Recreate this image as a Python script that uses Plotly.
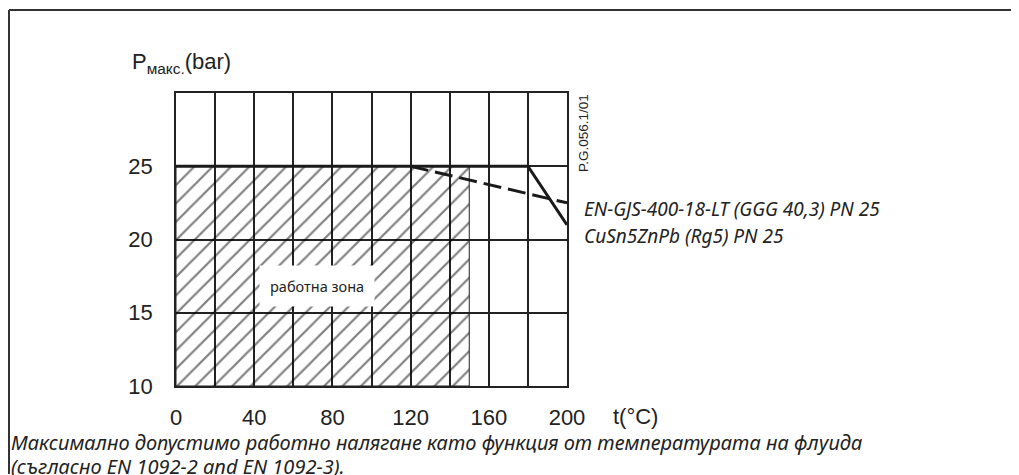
import plotly.graph_objects as go

# Data
temps_solid = [0, 180, 200]          # EN-GJS-400-18-LT
press_solid = [25, 25, 21]
temps_dash = [120, 200]              # CuSn5ZnPb
press_dash = [25, 22.5]
zone_x = [0, 150, 150, 0, 0]         # работна зона
zone_y = [10, 10, 25, 25, 10]
x_tickvals = [0, 40, 80, 120, 160, 200]
x_ticktext = ["0", "40", "80", "120", "160", "200"]
y_tickvals = [10, 15, 20, 25]
y_ticktext = ["10", "15", "20", "25"]

TXT = "#222222"
ITAL = "Noto Sans, Open Sans, sans-serif"

# page has an 8px body margin; figure is sized to fill the rest of the window
OFF = 8
W, H = 1019 - OFF, 475 - OFF
pl, pr, pt, pb = 168, 452, 85, 89
pw, ph = W - pl - pr, H - pt - pb


def px(sx):
    return (sx - OFF - pl) / pw


def py(sy):
    return (H - pb - (sy - OFF)) / ph


fig = go.Figure()

fig.add_trace(go.Scatter(
    x=zone_x, y=zone_y, mode="lines", fill="toself",
    line=dict(color="#222222", width=1),
    fillcolor="rgba(255,255,255,0)",
    fillpattern=dict(shape="/", fgcolor="black", bgcolor="rgba(255,255,255,0)",
                     size=13, solidity=0.17),
    hoverinfo="skip", showlegend=False))

fig.add_trace(go.Scatter(x=temps_dash, y=press_dash, mode="lines",
                         line=dict(color="#1a1a1a", width=3, dash="18px,7px"),
                         showlegend=False))
fig.add_trace(go.Scatter(x=temps_solid, y=press_solid, mode="lines",
                         line=dict(color="#1a1a1a", width=3),
                         showlegend=False))

fig.update_layout(
    width=W, height=H,
    margin=dict(l=pl, r=pr, t=pt, b=pb, autoexpand=False),
    paper_bgcolor="white", plot_bgcolor="white",
    font=dict(family="Liberation Sans, Arial, sans-serif", color=TXT),
    xaxis=dict(range=[0, 200], tickvals=x_tickvals, ticktext=x_ticktext,
               showgrid=True, gridcolor="#222222", gridwidth=1.5,
               minor=dict(dtick=20, tick0=0, showgrid=True, gridcolor="#222222",
                          gridwidth=1.5, ticks=""),
               showline=True, linecolor="#222222", linewidth=1.5, mirror=True,
               zeroline=False, ticks="", tickfont=dict(size=22, color=TXT),
               ticklabelstandoff=11),
    yaxis=dict(range=[10, 30], tickvals=y_tickvals, ticktext=y_ticktext,
               showgrid=True, gridcolor="#222222", gridwidth=1.5,
               showline=True, linecolor="#222222", linewidth=1.5, mirror=True,
               zeroline=False, ticks="", tickfont=dict(size=22, color=TXT),
               ticklabelstandoff=17),
    shapes=[
        dict(type="line", xref="paper", yref="paper",
             x0=px(9), x1=px(1018), y0=py(10), y1=py(10),
             line=dict(color="#333333", width=2)),
        dict(type="line", xref="paper", yref="paper",
             x0=px(9), x1=px(9), y0=py(10), y1=py(474),
             line=dict(color="#333333", width=2)),
    ],
)

ann = [
    dict(x=px(130), y=py(63), xref="paper", yref="paper", xanchor="left", yanchor="middle",
         text="P<sub>макс.</sub>(bar)", showarrow=False,
         font=dict(size=22, color=TXT)),
    dict(x=px(611), y=py(416), xref="paper", yref="paper", xanchor="left", yanchor="middle",
         text="t(°C)", showarrow=False, font=dict(size=22, color=TXT)),
    dict(x=px(583), y=py(133), xref="paper", yref="paper", xanchor="center", yanchor="middle",
         text="P.G.056.1/01", textangle=-90, showarrow=False, font=dict(size=13.5, color=TXT)),
    dict(x=px(582), y=py(209), xref="paper", yref="paper", xanchor="left", yanchor="middle",
         text="<i>EN-GJS-400-18-LT (GGG 40,3) PN 25</i>", showarrow=False,
         font=dict(size=19, color=TXT, family=ITAL)),
    dict(x=px(582), y=py(236), xref="paper", yref="paper", xanchor="left", yanchor="middle",
         text="<i>CuSn5ZnPb (Rg5) PN 25</i>", showarrow=False,
         font=dict(size=19, color=TXT, family=ITAL)),
    dict(x=px(9), y=py(442), xref="paper", yref="paper", xanchor="left", yanchor="middle",
         text="<i>Максимално допустимо работно налягане като функция от температурата на флуида</i>",
         showarrow=False, font=dict(size=20, color=TXT, family=ITAL)),
    dict(x=px(9), y=py(467), xref="paper", yref="paper", xanchor="left", yanchor="middle",
         text="<i>(съгласно EN 1092-2 and EN 1092-3).</i>",
         showarrow=False, font=dict(size=20, color=TXT, family=ITAL)),
    dict(x=72, y=16.8, xref="x", yref="y", text="работна зона", showarrow=False,
         bgcolor="white", borderpad=10, font=dict(size=14.5, color=TXT, family=ITAL)),
]
fig.update_layout(annotations=ann)

fig.write_html("out.html")
